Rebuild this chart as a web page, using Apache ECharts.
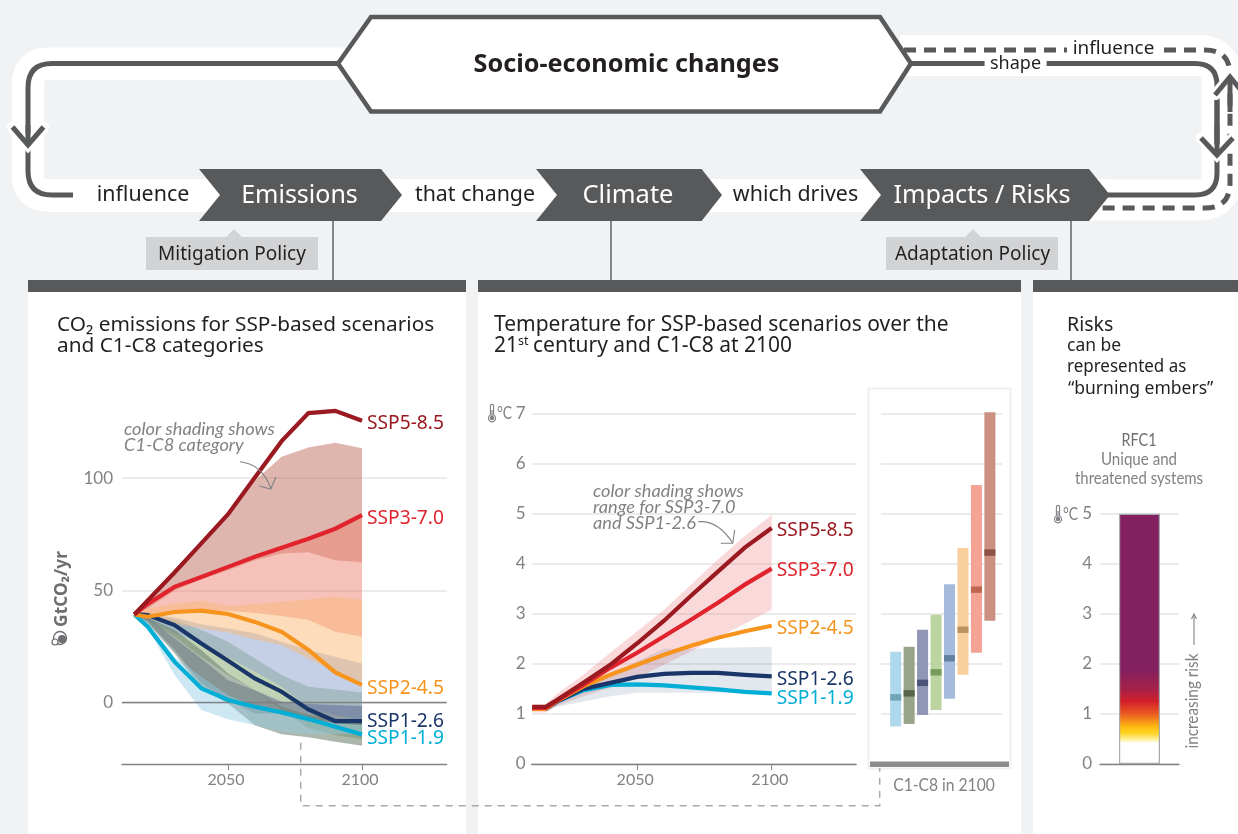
<!DOCTYPE html>
<html><head><meta charset="utf-8">
<style>html,body{margin:0;padding:0;background:#f1f2f4}#c{width:1238px;height:834px}</style>
<script src="https://cdn.jsdelivr.net/npm/echarts@6/dist/echarts.min.js"></script>
</head><body><div id="c"></div>
<script>
// ---------- data ----------
const emisYears = [2015,2020,2030,2040,2050,2060,2070,2080,2090,2100];
const emisSSP585 = [39.3,45.5,58,71,84,100.3,116.5,129,130,125.6];
const emisSSP370 = [39.3,44,51.6,56,60.5,65,69,73,77.5,83.5];
const emisSSP245 = [39.3,38.3,40.4,41,39.5,36,31.6,23.5,13.5,7.9];
const emisSSP126 = [39.5,39,34.6,26.4,18.7,10.8,4.9,-3,-8.2,-8.2];
const emisSSP119 = [39.3,33.9,18.3,6.4,1.2,-1.8,-4.3,-7.3,-10.7,-14.1];

const c8Hi = [39.5,45,57,70,85,99,109.6,113.7,115.8,113.3];
const c8Lo = [39.5,42,50,55,59,63.5,66.5,67,63.5,62.6];
const c7Hi = [39.5,44,51,56,60,64.5,68.5,73,77.5,83];
const c7Lo = [39.5,39,39.5,41,41,40,38.6,36.8,31.6,29.4];
const c6Hi = [39.5,42,44,45.5,43,44,45,46,47.2,45.7];
const c6Lo = [39.5,38.3,35.3,33,31.3,28.2,25.7,19.7,13.8,9.4];
const c5Hi = [39.5,39.5,38,35,33,30.9,27.2,23.5,20.5,17.5];
const c5Lo = [39.5,37,31,26,20.2,13.8,7.1,-2.5,-5.5,-7.7];
const c4Hi = [39.5,39,37,32.4,27.2,19.7,12.3,7.1,5.9,4.6];
const c4Lo = [39.5,36.8,29.4,20.5,12.3,5.6,-3.3,-11.4,-14.4,-16.3];
const c3Hi = [39.5,38,28.7,19.7,10,5.6,0.4,-0.6,-1,-1.5];
const c3Lo = [39.5,36,23.5,8.6,1.2,-4.8,-4.8,-7.7,-9.2,-10];
const c2Hi = [39.5,38,32.4,23.5,13,5.6,-1.8,-5.5,-7,-8.5];
const c2Lo = [39.5,35.3,22,6.4,-0.3,-10,-14,-15.4,-17.4,-19.2];
const c1Hi = [39.3,36,20.5,11.6,3.4,-1.8,-4.8,-7,-9,-10];
const c1Lo = [39.3,33,12.3,-3.3,-7.4,-10,-13,-14,-14,-14];

const tempYears = [2011,2016,2020,2030,2040,2050,2060,2070,2080,2090,2100];
const tempSSP585 = [1.14,1.14,1.27,1.62,1.98,2.41,2.86,3.36,3.84,4.32,4.71];
const tempSSP370 = [1.12,1.12,1.26,1.58,1.92,2.22,2.55,2.88,3.22,3.58,3.9];
const tempSSP245 = [1.1,1.1,1.25,1.55,1.78,1.98,2.18,2.36,2.52,2.65,2.76];
const tempSSP126 = [1.1,1.1,1.24,1.5,1.62,1.74,1.8,1.82,1.82,1.78,1.75];
const tempSSP119 = [1.1,1.1,1.24,1.47,1.58,1.59,1.57,1.53,1.49,1.44,1.41];
const tempSSP370Hi = [1.19,1.19,1.39,1.78,2.22,2.65,3.08,3.58,4.08,4.55,4.97];
const tempSSP370Lo = [1.03,1.03,1.16,1.35,1.52,1.72,1.98,2.25,2.52,2.8,3.08];
const tempSSP126Hi = [1.05,1.05,1.3,1.58,1.78,2.05,2.3,2.3,2.32,2.33,2.34];
const tempSSP126Lo = [1.05,1.05,1.14,1.25,1.35,1.42,1.42,1.42,1.42,1.41,1.41];

const catNames = ['C1','C2','C3','C4','C5','C6','C7','C8'];
const catLow = [0.75,0.8,0.98,1.08,1.3,1.78,2.22,2.86];
const catHigh = [2.24,2.34,2.68,2.98,3.59,4.31,5.57,7.02];
const catMedian = [1.33,1.41,1.62,1.83,2.11,2.68,3.48,4.22];

const emberValue = [5];
const emberLevels = [5,1.9,1.5,1.25,1,0.75,0.62,0.47,0.42,0];
const emberColors = ['#832060','#832060','#a3214a','#d4202a','#ea5b20','#fdb813','#ffd520','#fff3b0','#ffffff','#ffffff'];

const emisTicks = [0,50,100];
const yearTicks = [2050,2100];

const scenarioNames = ['SSP5-8.5','SSP3-7.0','SSP2-4.5','SSP1-2.6','SSP1-1.9'];
const scenarioColors = ['#9b1a21','#e0232c','#f7941d','#1a3668','#00aed6'];
const catBarColors = ['#aed8eb','#98a388','#9096b4','#bcd4a0','#a4bbdb','#f9cf9e','#f4a394','#cb9080'];
const catMedColors = ['#6fa3b8','#56644a','#4b5478','#789a5c','#64809f','#bb9362','#bf6552','#8f5048'];

// ---------- helpers ----------
const FONT = '"Noto Sans"', NARROW = '"Lato"';
const GREY = '#808285', DARK = '#58595b', INK = '#231f20';

function band(xs, lo, hi, fill, xA, yA, name){
  const rows = xs.map((x,i)=>[x,lo[i],hi[i]]);
  return {type:'custom', name, xAxisIndex:xA, yAxisIndex:yA, z:3, silent:true, animation:false,
    encode:{x:0,y:[1,2]}, data:rows,
    renderItem:(p,api)=>{
      if(p.dataIndex!==0) return null;
      const top = rows.map(r=>api.coord([r[0],r[2]]));
      const bot = rows.map(r=>api.coord([r[0],r[1]])).reverse();
      return {type:'polygon',shape:{points:top.concat(bot)},style:{fill}};
    }};
}
function line(xs, ys, i, xA, yA, dy){
  return {type:'line', name:scenarioNames[i], xAxisIndex:xA, yAxisIndex:yA, z:5, silent:true,
    animation:false, symbol:'none', lineStyle:{color:scenarioColors[i],width:4.2,join:'miter'},
    itemStyle:{color:scenarioColors[i]},
    data:xs.map((x,k)=>[x,ys[k]]),
    endLabel:{show:true,formatter:scenarioNames[i],color:scenarioColors[i],fontFamily:FONT,fontSize:19.2,
      distance:5,offset:[0,dy]}};
}
function T(x,y,text,size,fill,o){
  o=o||{};
  return {type:'text', z:50, silent:true, rotation:o.rotation||0, x, y, scaleX:o.sx||1,
    style:{x:0,y:0,text,fill,
      font:(o.style||'normal')+' '+(o.weight||'normal')+' '+size+'px '+(o.family||FONT),
      textAlign:o.align||'left',textVerticalAlign:'middle'}};
}
let shapeCount = 0;
function P(d,stroke,w,o){
  o=o||{};
  const name = 'annoPath'+(shapeCount++);
  echarts.graphic.registerShape(name, echarts.graphic.extendPath(d,{}));
  return {type:name,z:o.z||20,silent:true,
    style:{fill:'none',stroke,lineWidth:w,lineDash:o.dash,lineCap:o.cap||'butt',lineJoin:o.join||'miter'}};
}
function poly(points,fill,o){
  o=o||{};
  return {type:'polygon',z:o.z||20,silent:true,shape:{points},style:{fill,stroke:o.stroke,lineWidth:o.lw}};
}
function R(x,y,w,h,fill,o){
  o=o||{};
  return {type:'rect',z:o.z===undefined?20:o.z,silent:true,shape:{x,y,width:w,height:h},style:{fill,stroke:o.stroke,lineWidth:o.lw}};
}
function thermo(x,y){
  return [
    P(`M ${x-1.6} ${y-7} A 1.6 1.6 0 0 1 ${x+1.6} ${y-7} L ${x+1.6} ${y+2} A 3.6 3.6 0 1 1 ${x-1.6} ${y+2} Z`,GREY,1.1,{z:50}),
    {type:'circle',z:50,silent:true,shape:{cx:x,cy:y+5,r:2.3},style:{fill:GREY}},
    R(x-0.6,y-3,1.2,7,GREY,{z:50})
  ];
}
const HAND = {style:'italic',family:'Lato'};

const graphics = [
  // panels
  R(28,292,438,542,'#ffffff',{z:-5}), R(478,292,543,542,'#ffffff',{z:-5}), R(1033,292,205,542,'#ffffff',{z:-5}),
  R(28,280,438,12,DARK,{z:-4}), R(478,280,543,12,DARK,{z:-4}), R(1033,280,205,12,DARK,{z:-4}),
  R(868.5,388.5,142,380,'#ffffff',{z:-3,stroke:'#eeeff0',lw:2}),
  // connector lines
  P('M 333 221 L 333 280',DARK,1.4,{z:2}), P('M 611 221 L 611 280',DARK,1.4,{z:2}), P('M 1071 221 L 1071 280',DARK,1.4,{z:2}),
  // ribbons
  P('M 345 63.8 L 48 63.8 Q 28 63.8 28 84 L 28 175 Q 28 195.4 48 195.4 L 220 195.4','#ffffff',32.5,{z:3}),
  R(48,179,1060,33,'#ffffff',{z:3}),
  P('M 900 55.5 L 1198 55.5 Q 1222 55.5 1222 79.5 L 1222 176 Q 1222 200 1198 200 L 1085 200','#ffffff',41,{z:3}),
  // left arrow
  P('M 338 63.5 L 52 63.5 Q 28 63.5 28 87.5 L 28 171 Q 28 195 52 195 L 73 195',DARK,5,{z:4}),
  P('M 12.5 127 L 28 145 L 43.5 127','#ffffff',11,{z:5,cap:'round'}),
  P('M 28 125 L 28 145',DARK,5,{z:6}),
  P('M 12.5 127 L 28 145 L 43.5 127',DARK,5,{z:6}),
  // right loop
  P('M 904 50 L 1205 50 Q 1230 50 1230 75 L 1230 183 Q 1230 208 1205 208 L 1096 208',DARK,5,{z:4,dash:[12,8]}),
  P('M 911 63.5 L 1195 63.5 Q 1217 63.5 1217 85.5 L 1217 173 Q 1217 195 1195 195 L 1108 195',DARK,5,{z:5}),
  P('M 1215 95 L 1230 77 L 1245 95','#ffffff',11,{z:6,cap:'round'}),
  P('M 1230 77 L 1230 112',DARK,5,{z:7}),
  P('M 1215 95 L 1230 77 L 1245 95',DARK,5,{z:7}),
  P('M 1217 100 L 1217 150',DARK,5,{z:7}),
  P('M 1201 138 L 1217 155 L 1233 138','#ffffff',11,{z:7,cap:'round'}),
  P('M 1217 125 L 1217 155',DARK,5,{z:8}),
  P('M 1201 138 L 1217 155 L 1233 138',DARK,5,{z:8}),
  R(1067,40,93,18,'#ffffff',{z:9}), R(984.6,56,62,16,'#ffffff',{z:9}),
  T(1113.5,48.5,'influence',18.9,INK,{align:'center'}),
  T(1015.5,64,'shape',18,INK,{align:'center'}),
  // hexagon
  poly([[338,63.5],[371,17],[880,17],[911,63.5],[880,111.5],[371,111.5]],'#ffffff',{z:10,stroke:DARK,lw:4.5}),
  T(626.5,64.5,'Socio-economic changes',25.2,'#231f20',{align:'center',weight:'bold'}),
  // chevrons
  poly([[199,169],[381,169],[402,195],[381,221],[199,221],[220,195]],DARK,{z:10}),
  poly([[536,169],[701.6,169],[722,195],[701.6,221],[536,221],[557,195]],DARK,{z:10}),
  poly([[860,169],[1089,169],[1110,195],[1089,221],[860,221],[881,195]],DARK,{z:11}),
  T(299.5,195.5,'Emissions',25,'#ffffff',{align:'center'}),
  T(628,195.5,'Climate',25.5,'#ffffff',{align:'center'}),
  T(982,195.5,'Impacts / Risks',25.2,'#ffffff',{align:'center'}),
  T(143,195,'influence',21.4,INK,{align:'center'}),
  T(475,195,'that change',21.4,INK,{align:'center'}),
  T(795.5,195,'which drives',21.4,INK,{align:'center'}),
  // policy boxes
  R(146,237,172,33,'#d1d3d4',{z:10}), poly([[226,237],[234,229],[242,237]],'#d1d3d4',{z:10}),
  R(886,237,172,33,'#d1d3d4',{z:10}), poly([[965,237],[973,229],[981,237]],'#d1d3d4',{z:10}),
  T(232,254.5,'Mitigation Policy',19,INK,{align:'center'}),
  T(972.5,254.5,'Adaptation Policy',19,INK,{align:'center'}),
  // titles
  T(57,325,'CO₂ emissions for SSP-based scenarios',20.8,INK),
  T(57,346,'and C1-C8 categories',20.8,INK),
  T(494,325,'Temperature for SSP-based scenarios over the',21,INK),
  T(494,346,'21',21,INK), T(518,341,'st',12.5,INK), T(533,346,'century and C1-C8 at 2100',21,INK),
  T(1067,325,'Risks',19.5,INK),
  T(1067,346,'can be',17.5,INK), T(1067,367,'represented as',17.5,INK,{sx:0.97}), T(1068,389,'“burning embers”',17.5,INK),
  T(1139,440,'RFC1',18,'#6d6e71',{align:'center',family:NARROW,sx:0.8}),
  T(1139,460,'Unique and',17,GREY,{align:'center',family:NARROW,sx:0.89}),
  T(1139,479,'threatened systems',17,GREY,{align:'center',family:NARROW,sx:0.88}),
  // annotations
  T(124,429,'color shading shows',18.2,GREY,HAND),
  T(124,445,'C1-C8 category',18.2,GREY,HAND),
  P('M 240 461.7 Q 262 464 270.7 488',GREY,1.1,{z:50}),
  P('M 259.3 486 L 270.7 489 L 276 477',GREY,1.1,{z:50}),
  T(593,491,'color shading shows',18.2,GREY,HAND),
  T(593,507,'range for SSP3-7.0',18.2,GREY,HAND),
  T(593,523,'and SSP1-2.6',18.2,GREY,HAND),
  P('M 698 521.7 Q 718 520 732.7 543',GREY,1.1,{z:50}),
  P('M 720.7 543.3 L 732.7 543.3 L 734.7 530',GREY,1.1,{z:50}),
  // axis names
  T(62,589,'GtCO₂/yr',18,'#6d6e71',{weight:'bold',align:'center',rotation:Math.PI/2,sx:0.96}),
  {type:'circle',z:50,silent:true,shape:{cx:60,cy:638,r:6.5},style:{fill:'none',stroke:'#6d6e71',lineWidth:1.4}},
  {type:'circle',z:50,silent:true,shape:{cx:62,cy:639,r:4},style:{fill:'#6d6e71'}},
  {type:'circle',z:50,silent:true,shape:{cx:55,cy:642,r:3},style:{fill:'#ffffff',stroke:'#6d6e71',lineWidth:1.2}},
  ...thermo(492,413), T(497,414,'°C',16.5,GREY,{family:NARROW,sx:0.85}),
  ...thermo(1058,514), T(1063,515,'°C',16.5,GREY,{family:NARROW,sx:0.85}),
  T(944,786,'C1-C8 in 2100',17,GREY,{align:'center',family:NARROW,sx:0.92}),
  T(1193,701,'increasing risk',17,GREY,{align:'center',rotation:Math.PI/2,family:NARROW,sx:0.9}),
  P('M 1194 645 L 1194 615',GREY,1.1,{z:50}), P('M 1191.5 619 L 1194 614 L 1196.5 619',GREY,1.1,{z:50}),
  // dashed connector and base bar
  P('M 300.7 742.7 L 300.7 805.7 L 879.7 805.7 L 879.7 768',"#a7a9ac",1.5,{z:6,dash:[7,6]}),
  R(870,761.5,139,5.5,'#8c8c8c',{z:6})
];

const yBase = {axisLine:{show:false},axisTick:{show:false},
  axisLabel:{color:GREY,fontFamily:NARROW,fontSize:17,padding:[2,0,0,0]},
  splitLine:{show:true,lineStyle:{color:'#e4e4e5',width:1.5}}};
const xBase = {type:'value',axisLine:{show:true,onZero:false,lineStyle:{color:GREY,width:1.3}},
  axisTick:{show:true,length:6,lineStyle:{color:GREY,width:1},customValues:yearTicks},
  axisLabel:{color:GREY,fontFamily:NARROW,fontSize:16,margin:8,padding:[0,4,0,0],formatter:v=>String(v),customValues:yearTicks},
  splitLine:{show:false}};

const series = [
  band(emisYears,c8Lo,c8Hi,'rgba(189,109,93,0.5)',0,0),
  band(emisYears,c7Lo,c7Hi,'rgba(237,131,113,0.5)',0,0),
  band(emisYears,c4Lo,c4Hi,'rgba(140,175,120,0.55)',0,0),
  band(emisYears,c5Lo,c5Hi,'rgba(140,161,205,0.5)',0,0),
  band(emisYears,c6Lo,c6Hi,'rgba(249,185,119,0.5)',0,0),
  band(emisYears,c3Lo,c3Hi,'rgba(90,100,145,0.5)',0,0),
  band(emisYears,c2Lo,c2Hi,'rgba(105,125,105,0.55)',0,0),
  band(emisYears,c1Lo,c1Hi,'rgba(147,203,229,0.45)',0,0),
  {type:'line',xAxisIndex:0,yAxisIndex:0,z:2,silent:true,symbol:'none',data:[],
    markLine:{silent:true,symbol:'none',animation:false,label:{show:false},lineStyle:{color:GREY,width:1.3,type:'solid'},data:[{yAxis:0}]}},
  line(emisYears,emisSSP119,4,0,0,4),
  line(emisYears,emisSSP126,3,0,0,0),
  line(emisYears,emisSSP245,2,0,0,4),
  line(emisYears,emisSSP370,1,0,0,3),
  line(emisYears,emisSSP585,0,0,0,3),

  band(tempYears,tempSSP370Lo,tempSSP370Hi,'rgba(236,120,125,0.28)',1,1),
  band(tempYears,tempSSP126Lo,tempSSP126Hi,'rgba(80,105,150,0.16)',1,1),
  line(tempYears,tempSSP119,4,1,1,5),
  line(tempYears,tempSSP126,3,1,1,3),
  line(tempYears,tempSSP245,2,1,1,3),
  line(tempYears,tempSSP370,1,1,1,2),
  line(tempYears,tempSSP585,0,1,1,3),

  {type:'custom',name:'C1-C8 in 2100',xAxisIndex:2,yAxisIndex:2,z:3,silent:true,animation:false,
    encode:{x:0,y:[1,2,3]},
    data:catNames.map((n,i)=>[i,catLow[i],catHigh[i],catMedian[i]]),
    renderItem:(p,api)=>{
      const i=api.value(0), w=api.size([1,0])[0]*0.82;
      const a=api.coord([i,api.value(2)]), b=api.coord([i,api.value(1)]), m=api.coord([i,api.value(3)]);
      return {type:'group',children:[
        {type:'rect',shape:{x:a[0]-w/2,y:a[1],width:w,height:b[1]-a[1]},style:{fill:catBarColors[i]}},
        {type:'rect',shape:{x:m[0]-w/2,y:m[1]-3.2,width:w,height:6.4},style:{fill:catMedColors[i]}}
      ]};
    }},

  {type:'bar',name:'RFC1',xAxisIndex:3,yAxisIndex:3,z:3,silent:true,animation:false,barWidth:41,data:emberValue,
    itemStyle:{borderColor:'#a7a9ac',borderWidth:1.2,
      color:{type:'linear',x:0,y:0,x2:0,y2:1,
        colorStops:emberLevels.map((v,i)=>({offset:1-v/emberValue[0],color:emberColors[i]}))}}}
];

const option = {
  backgroundColor:'#f1f2f4',
  animation:false,
  tooltip:{show:false},
  legend:{show:false},
  grid:[
    {left:122,top:388.4,width:324.67,height:375.6,containLabel:false},
    {left:531.7,top:413.3,width:324.5,height:350.7},
    {left:881,top:413.3,width:121,height:350.7},
    {left:1100,top:513.7,width:79,height:250.3}
  ],
  xAxis:[
    Object.assign({},xBase,{gridIndex:0,min:2010.4,max:2131.6}),
    Object.assign({},xBase,{gridIndex:1,min:2010.8,max:2131.4}),
    {type:'value',gridIndex:2,min:-1.09,max:7.9,axisLine:{show:false},axisTick:{show:false},axisLabel:{show:false},splitLine:{show:false}},
    {type:'category',gridIndex:3,data:['RFC1'],axisLine:{show:true,lineStyle:{color:GREY,width:1.3}},axisTick:{show:false},axisLabel:{show:false},splitLine:{show:false}}
  ],
  yAxis:[
    Object.assign({},yBase,{type:'value',gridIndex:0,min:-27.3,max:140,
      axisLabel:Object.assign({},yBase.axisLabel,{margin:9,customValues:emisTicks}),
      axisTick:{show:false,customValues:emisTicks}}),
    Object.assign({},yBase,{type:'value',gridIndex:1,min:0,max:7,interval:1,axisLabel:Object.assign({},yBase.axisLabel,{margin:6})}),
    Object.assign({},yBase,{type:'value',gridIndex:2,min:0,max:7,interval:1,axisLabel:{show:false}}),
    Object.assign({},yBase,{type:'value',gridIndex:3,min:0,max:5,interval:1,axisLabel:Object.assign({},yBase.axisLabel,{margin:8})})
  ],
  graphic:{elements:graphics},
  series
};
const chart = echarts.init(document.getElementById('c'),null,{renderer:'canvas',width:1238,height:834});
chart.setOption(option);
</script></body></html>
